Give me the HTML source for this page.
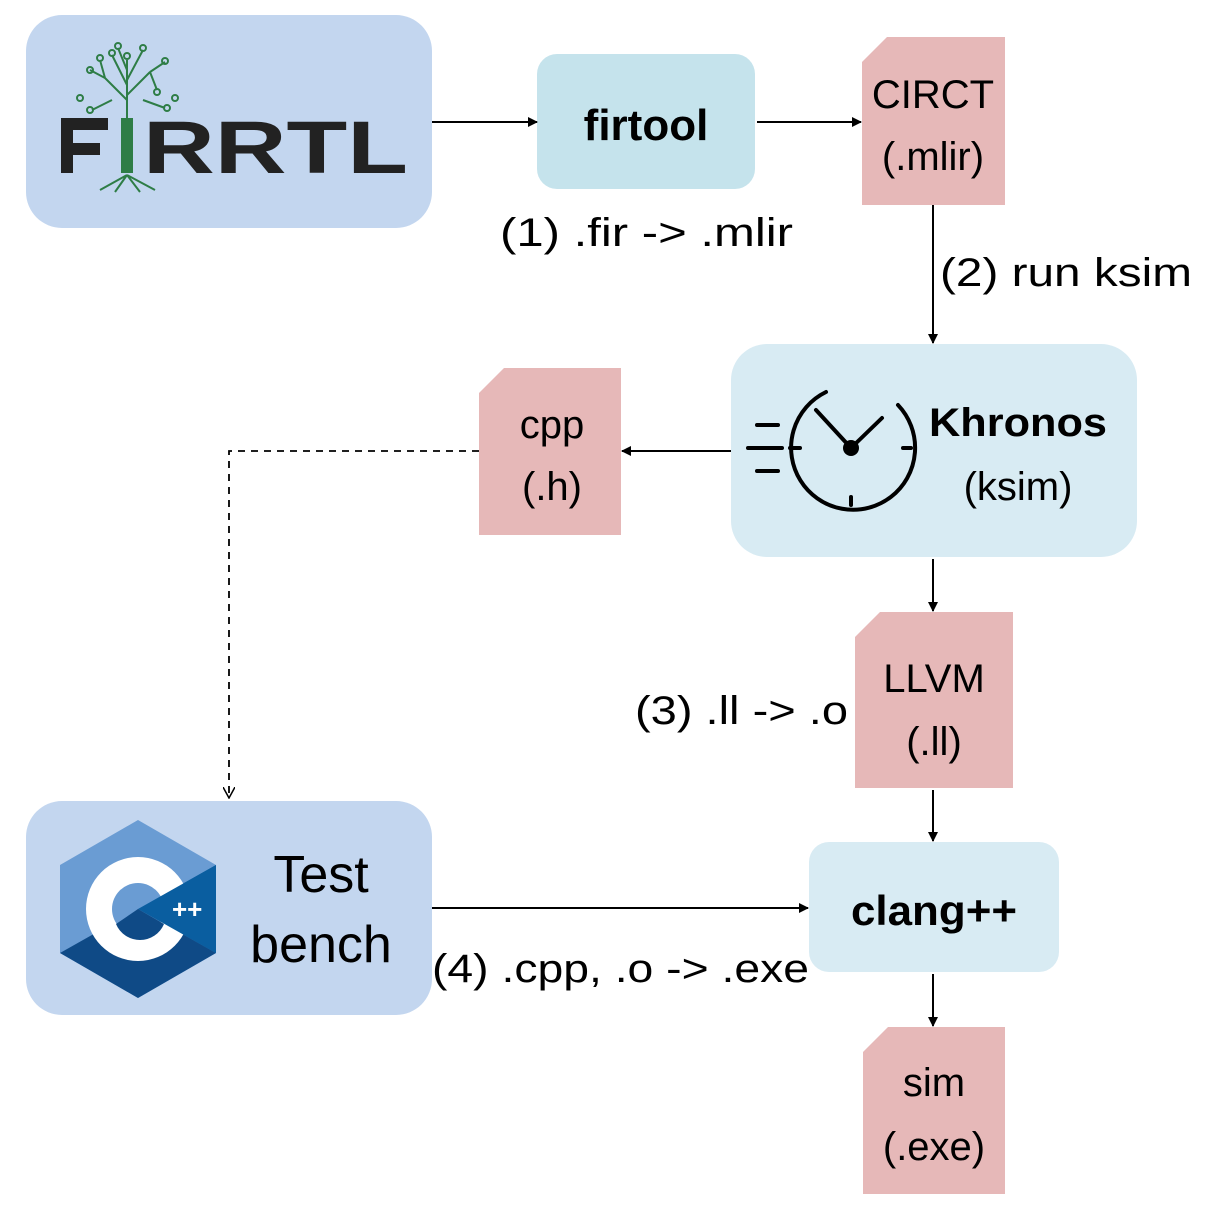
<!DOCTYPE html>
<html><head><meta charset="utf-8"><style>body{margin:0;background:#fff}svg{display:block}</style></head><body>
<svg width="1213" height="1212" viewBox="0 0 1213 1212" xmlns="http://www.w3.org/2000/svg" font-family="Liberation Sans, sans-serif">
<defs>
<marker id="a" markerWidth="10" markerHeight="10" refX="9" refY="5" orient="auto" markerUnits="userSpaceOnUse"><path d="M0,0 L10,5 L0,10 Z" fill="#000"/></marker>
<marker id="o" markerWidth="12" markerHeight="12" refX="6" refY="11" orient="0" markerUnits="userSpaceOnUse"><path d="M0,0 L6,11 L12,0" fill="none" stroke="#000" stroke-width="1.5"/></marker>
</defs>
<!-- boxes -->
<rect x="26" y="15" width="406" height="213" rx="36" fill="#c3d6ef"/>
<rect x="537" y="54" width="218" height="135" rx="20" fill="#c5e3ec"/>
<rect x="731" y="344" width="406" height="213" rx="36" fill="#d8ebf3"/>
<rect x="809" y="842" width="250" height="130" rx="20" fill="#d8ebf3"/>
<rect x="26" y="801" width="406" height="214" rx="36" fill="#c3d6ef"/>
<!-- docs -->
<path d="M887,37 H1005 V205 H862 V62 Z" fill="#e6b8b8"/>
<path d="M504,368 H621 V535 H479 V393 Z" fill="#e6b8b8"/>
<path d="M880,612 H1013 V788 H855 V637 Z" fill="#e6b8b8"/>
<path d="M888,1027 H1005 V1194 H863 V1052 Z" fill="#e6b8b8"/>
<!-- arrows -->
<g stroke="#000" stroke-width="2" fill="none">
<line x1="432" y1="122" x2="537" y2="122" marker-end="url(#a)"/>
<line x1="757" y1="122" x2="861" y2="122" marker-end="url(#a)"/>
<line x1="933" y1="205" x2="933" y2="343" marker-end="url(#a)"/>
<line x1="731" y1="451" x2="622" y2="451" marker-end="url(#a)"/>
<line x1="933" y1="559" x2="933" y2="611" marker-end="url(#a)"/>
<line x1="933" y1="790" x2="933" y2="841" marker-end="url(#a)"/>
<line x1="432" y1="908" x2="808" y2="908" marker-end="url(#a)"/>
<line x1="933" y1="974" x2="933" y2="1026" marker-end="url(#a)"/>
<polyline points="479,451 229,451 229,798" stroke-dasharray="7,6" stroke-width="1.8" marker-end="url(#o)"/>
</g>
<!-- FIRRTL logo -->
<g stroke="#2e7d46" stroke-width="2" fill="none">
<path d="M127,120 V60 M127,100 L105,78 M127,95 L150,72 M127,85 L112,55 M127,80 L143,50 M105,78 L90,70 M105,78 L100,60 M150,72 L165,62 M150,72 L157,90 M112,100 L92,110 M143,100 L165,108 M127,70 L118,48"/>
<path d="M127,175 L100,190 M127,175 L115,192 M127,175 L140,192 M127,175 L155,190"/>
<circle cx="127" cy="56" r="3"/><circle cx="112" cy="53" r="3"/><circle cx="143" cy="48" r="3"/><circle cx="90" cy="70" r="3"/><circle cx="100" cy="58" r="3"/><circle cx="165" cy="61" r="3"/><circle cx="157" cy="92" r="3"/><circle cx="90" cy="110" r="3"/><circle cx="167" cy="108" r="3"/><circle cx="118" cy="46" r="3"/><circle cx="80" cy="98" r="3"/><circle cx="175" cy="98" r="3"/>
</g>
<g fill="#222">
<path d="M61,118 H108 V130 H73 V143 H100 V155 H73 V173 H61 Z"/>
<rect x="121" y="118" width="12" height="55" fill="#2e7d46"/>
</g>
<text x="143" y="173" font-size="74" font-weight="bold" fill="#222" textLength="265" lengthAdjust="spacingAndGlyphs">RRTL</text>
<!-- clock -->
<g stroke="#000" stroke-width="4" fill="none" stroke-linecap="round">
<path d="M826,392 A62,62 0 1 0 898,405"/>
<line x1="816" y1="410" x2="851" y2="448"/><line x1="851" y1="448" x2="882" y2="418"/>
<line x1="757" y1="425" x2="778" y2="425"/><line x1="748" y1="448" x2="782" y2="448"/><line x1="757" y1="471" x2="778" y2="471"/>
<line x1="790" y1="448" x2="800" y2="448"/><line x1="903" y1="448" x2="911" y2="448"/><line x1="851" y1="497" x2="851" y2="505"/>
</g>
<circle cx="851" cy="448" r="8" fill="#000"/>
<!-- C++ logo -->
<path d="M138,820 L216,865 V953 L138,998 L60,953 V865 Z" fill="#6a9cd3"/>
<path d="M138,909 L216,865 V953 Z" fill="#0a5ea0"/>
<path d="M60,953 L138,909 L216,953 L138,998 Z" fill="#0f4a86"/>
<circle cx="138" cy="909" r="52" fill="#fff"/>
<circle cx="138" cy="909" r="26" fill="#6a9cd3"/>
<path d="M138,909 L216,865 V953 Z" fill="#0a5ea0"/>
<path d="M138,909 L164,924 A26,26 0 0 1 116,924 Z" fill="#0f4a86"/>
<text x="172" y="918" font-size="26" font-weight="bold" fill="#fff">++</text>
<!-- text -->
<g font-size="40" fill="#000">
<text x="646" y="140" font-weight="bold" font-size="44" text-anchor="middle">firtool</text>
<text x="933" y="108" text-anchor="middle">CIRCT</text>
<text x="933" y="170" text-anchor="middle">(.mlir)</text>
<text x="500" y="246" textLength="293" lengthAdjust="spacingAndGlyphs">(1) .fir -&gt; .mlir</text>
<text x="940" y="286" textLength="252" lengthAdjust="spacingAndGlyphs">(2) run ksim</text>
<text x="1018" y="436" font-weight="bold" font-size="40" text-anchor="middle" textLength="178" lengthAdjust="spacingAndGlyphs">Khronos</text>
<text x="1018" y="500" text-anchor="middle">(ksim)</text>
<text x="552" y="438" text-anchor="middle">cpp</text>
<text x="552" y="500" text-anchor="middle">(.h)</text>
<text x="934" y="692" text-anchor="middle">LLVM</text>
<text x="934" y="755" text-anchor="middle">(.ll)</text>
<text x="635" y="724" textLength="213" lengthAdjust="spacingAndGlyphs">(3) .ll -&gt; .o</text>
<text x="934" y="925" font-weight="bold" font-size="42" text-anchor="middle" textLength="166" lengthAdjust="spacingAndGlyphs">clang++</text>
<text x="432" y="982" textLength="377" lengthAdjust="spacingAndGlyphs">(4) .cpp, .o -&gt; .exe</text>
<text x="934" y="1096" text-anchor="middle">sim</text>
<text x="934" y="1160" text-anchor="middle">(.exe)</text>
<text x="321" y="892" font-size="52" text-anchor="middle">Test</text>
<text x="321" y="962" font-size="52" text-anchor="middle">bench</text>
</g>
</svg>
</body></html>
